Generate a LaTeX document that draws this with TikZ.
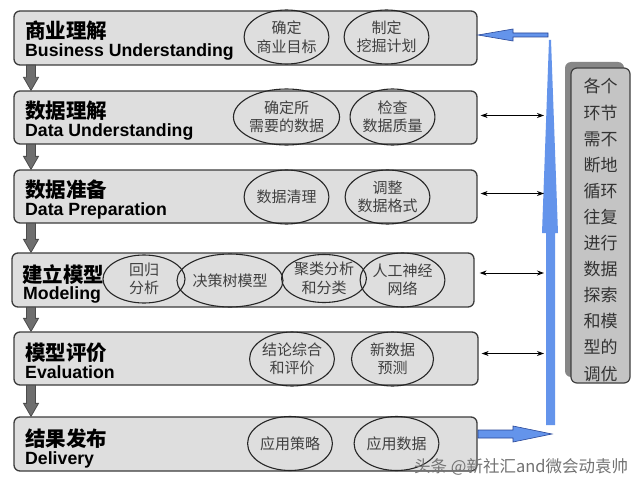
\documentclass[tikz,border=0pt]{standalone}
\usepackage{fontspec}
\setmainfont{Liberation Sans}
\newfontfamily\cjk{Noto Sans CJK SC}
\usetikzlibrary{shapes.geometric,arrows.meta,calc}
\definecolor{boxfill}{RGB}{222,222,222}
\definecolor{boxline}{RGB}{60,60,60}
\definecolor{flowblue}{RGB}{100,148,235}
\definecolor{flowedge}{RGB}{40,70,150}
\definecolor{sidefill}{RGB}{196,196,196}
\definecolor{sideshadow}{RGB}{135,135,135}
\definecolor{arrowgray}{RGB}{110,110,110}
\begin{document}
\begin{tikzpicture}[x=1pt,y=-1pt,
 stage/.style={draw=boxline, line width=1.3pt, fill=boxfill, rounded corners=6pt, minimum width=463pt, minimum height=54pt, inner sep=0pt},
 oval/.style={ellipse, draw=black!85, line width=1.1pt, minimum width=82pt, minimum height=54pt, inner sep=0pt, align=center, text=black!75, font=\cjk\fontsize{15}{18.5}\selectfont},
 zhtitle/.style={anchor=base west, inner sep=0pt, font=\cjk\bfseries\fontsize{20.5}{24}\selectfont},
 entitle/.style={anchor=base west, inner sep=0pt, font=\bfseries\fontsize{17.7}{20}\selectfont},
 dnarrow/.style={fill=arrowgray, draw=black!70, line width=0.8pt, line join=miter},
 link/.style={draw=black, line width=0.9pt, {Stealth[length=7pt,width=5pt]}-{Stealth[length=7pt,width=5pt]}},
 bluearrow/.style={fill=flowblue, draw=flowedge, line width=0.6pt, line join=miter},
 sidebox/.style={draw=black!75, line width=1.2pt, fill=sidefill, rounded corners=6pt, minimum width=59pt, minimum height=315pt, inner sep=0pt},
 sidetext/.style={inner sep=0pt, align=center, text=black!80, font=\cjk\fontsize{17}{26.1}\selectfont}]

\useasboundingbox[fill=white] (0,0) rectangle (640,487);

% stage boxes
\node[stage] (b1) at (245.5,38) {};
\node[stage, minimum height=53pt] (b2) at (245.5,117.5) {};
\node[stage, minimum height=53pt] (b3) at (245.5,196.5) {};
\node[stage, minimum width=462pt] (b4) at (243,280) {};
\node[stage, minimum width=464pt, minimum height=53pt] (b5) at (246,358.5) {};
\node[stage] (b6) at (245.5,444) {};

% titles
\node[zhtitle] (t1z) at (25,39) {商业理解};
\node[entitle] (t1e) at (25,57) {Business Understanding};
\node[zhtitle] (t2z) at (25,118) {数据理解};
\node[entitle] (t2e) at (25,136) {Data Understanding};
\node[zhtitle] (t3z) at (25,197) {数据准备};
\node[entitle] (t3e) at (25,215) {Data Preparation};
\node[zhtitle] (t4z) at (22,282) {建立模型};
\node[entitle] (t4e) at (23,299) {Modeling};
\node[zhtitle] (t5z) at (25,360) {模型评价};
\node[entitle] (t5e) at (25,378) {Evaluation};
\node[zhtitle] (t6z) at (25,446) {结果发布};
\node[entitle] (t6e) at (25,464) {Delivery};

% ellipses
\node[oval] (e11) at (286.5,37) {确定\\商业目标};
\node[oval] (e12) at (386.5,37) {制定\\挖掘计划};
\node[oval, minimum height=56pt] (e21) at (286.5,117) {确定所\\需要的数据};
\node[oval, minimum height=56pt] (e22) at (392.5,117) {检查\\数据质量};
\node[oval] (e31) at (286.5,197) {数据清理};
\node[oval] (e32) at (387.5,197) {调整\\数据格式};
\node[oval, minimum height=48pt] (e41) at (144,279) {回归\\分析};
\node[oval, minimum height=53pt] (e42) at (230,280.5) {决策树模型};
\node[oval, minimum height=48pt] (e43) at (324,278.5) {聚类分析\\和分类};
\node[oval] (e44) at (402.5,280) {人工神经\\网络};
\node[oval] (e51) at (292,359) {结论综合\\和评价};
\node[oval] (e52) at (392.5,359) {新数据\\预测};
\node[oval] (e61) at (290,443.5) {应用策略};
\node[oval] (e62) at (396.5,443.5) {应用数据};

% down arrows between stages
\foreach \a/\b in {b1/b2,b2/b3,b3/b4,b4/b5,b5/b6}{
  \draw[dnarrow] let \p1=(\a.south), \p2=(\b.north) in
    ({26.5pt},{\y1+0.5pt}) -- ({35.5pt},{\y1+0.5pt}) -- ({35.5pt},{\y2+13pt}) -- ({38.5pt},{\y2+13pt})
    -- ({31pt},{\y2}) -- ({23.5pt},{\y2+13pt}) -- ({26.5pt},{\y2+13pt}) -- cycle;
}

% vertical blue feedback arrow
\fill[flowblue] (546,425) -- (555,425) -- (555,233) -- (558,233) -- (551,40) -- (549,40) -- (542,233) -- (546,233) -- cycle;
\coordinate (vline) at (544,0);

% top blue arrow back to first stage
\draw[bluearrow] (548,33) -- (513,33) -- (513,29) -- (478,35) -- (513,41) -- (513,37) -- (548,37) -- cycle;
% bottom blue arrow from delivery
\draw[bluearrow] (478,430) -- (513,430) -- (513,426) -- (552,434) -- (513,442) -- (513,438) -- (478,438) -- cycle;

% double arrows
\draw[link] ([xshift=3pt,yshift=2pt]b2.east) -- ([yshift=2pt]b2.east -| vline);
\draw[link] ([xshift=3pt,yshift=3pt]b3.east) -- ([yshift=3pt]b3.east -| vline);
\draw[link] ([xshift=5pt,yshift=7pt]b4.east) -- ([yshift=7pt]b4.east -| vline);
\draw[link] ([xshift=3pt,yshift=5pt]b5.east) -- ([yshift=5pt]b5.east -| vline);

% side box
\fill[sideshadow, rounded corners=6pt] (565,62) rectangle (624,377);
\node[sidebox] (side) at (600.5,225.5) {};
\node[sidetext] (sidet) at (600.5,230) {各个\\环节\\需不\\断地\\循环\\往复\\进行\\数据\\探索\\和模\\型的\\调优};

% watermark
\node[anchor=base west, inner sep=0pt, text=black!55, font=\cjk\fontsize{16.5}{18}\selectfont] (wm) at (414,472) {头条 @新社汇and微会动袁帅};
\end{tikzpicture}
\end{document}
